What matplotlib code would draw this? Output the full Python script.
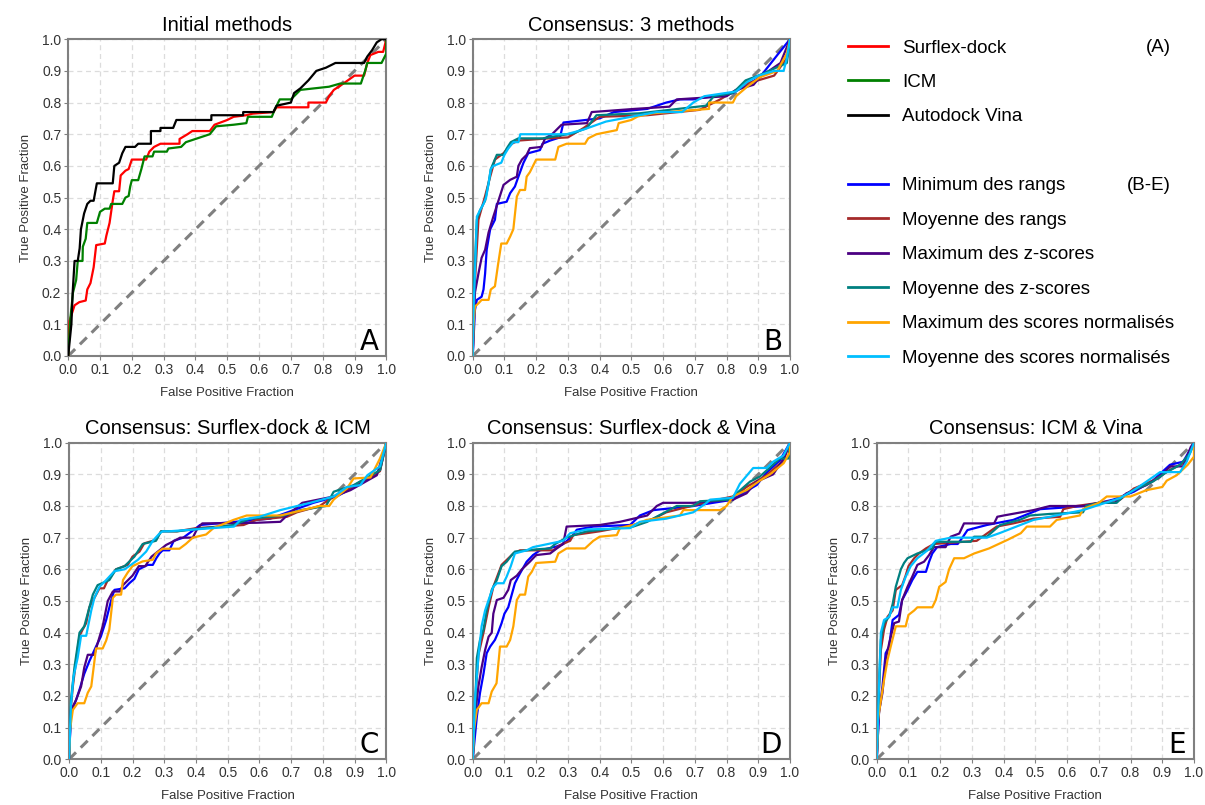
import numpy as np
import matplotlib
matplotlib.use("Agg")
import matplotlib.pyplot as plt
from matplotlib.lines import Line2D

plt.rcParams['font.family'] = ['Liberation Sans', 'DejaVu Sans']

# ---- data: (false positive fraction, true positive fraction) breakpoints ----
# panel A
a_surflex = [(0,0),(0.004,0.11),(0.02,0.16),(0.035,0.17),(0.055,0.175),(0.06,0.21),(0.07,0.23),(0.08,0.28),(0.088,0.35),(0.115,0.355),(0.12,0.38),(0.13,0.42),(0.14,0.49),(0.145,0.52),(0.16,0.52),(0.165,0.57),(0.18,0.585),(0.19,0.59),(0.20,0.62),(0.245,0.62),(0.255,0.645),(0.27,0.66),(0.29,0.67),(0.35,0.67),(0.35,0.685),(0.375,0.70),(0.39,0.71),(0.445,0.71),(0.46,0.73),(0.50,0.745),(0.52,0.755),(0.56,0.76),(0.58,0.765),(0.645,0.77),(0.655,0.785),(0.755,0.785),(0.755,0.80),(0.81,0.80),(0.82,0.82),(0.835,0.84),(0.865,0.86),(0.90,0.885),(0.93,0.885),(0.94,0.925),(0.95,0.95),(0.975,0.96),(0.99,0.96),(1,1)]
a_icm = [(0,0),(0.006,0.11),(0.015,0.2),(0.025,0.24),(0.03,0.30),(0.045,0.30),(0.046,0.345),(0.055,0.37),(0.06,0.42),(0.09,0.42),(0.10,0.455),(0.115,0.465),(0.13,0.465),(0.135,0.48),(0.17,0.48),(0.18,0.50),(0.19,0.505),(0.195,0.535),(0.20,0.555),(0.22,0.555),(0.23,0.59),(0.24,0.63),(0.265,0.63),(0.27,0.645),(0.31,0.645),(0.315,0.655),(0.355,0.66),(0.37,0.675),(0.415,0.69),(0.445,0.70),(0.465,0.725),(0.52,0.73),(0.56,0.735),(0.565,0.755),(0.64,0.755),(0.65,0.78),(0.665,0.81),(0.70,0.81),(0.71,0.82),(0.73,0.84),(0.82,0.85),(0.855,0.86),(0.92,0.86),(0.935,0.905),(0.94,0.925),(0.985,0.925),(1.0,0.955),(1,1)]
a_vina = [(0,0),(0.01,0.1),(0.014,0.2),(0.02,0.30),(0.03,0.30),(0.036,0.34),(0.04,0.40),(0.05,0.45),(0.06,0.48),(0.07,0.49),(0.08,0.49),(0.09,0.545),(0.14,0.545),(0.145,0.60),(0.16,0.61),(0.17,0.64),(0.18,0.66),(0.21,0.66),(0.22,0.67),(0.26,0.67),(0.26,0.71),(0.29,0.71),(0.29,0.72),(0.33,0.72),(0.34,0.745),(0.45,0.745),(0.45,0.76),(0.55,0.76),(0.55,0.77),(0.645,0.77),(0.655,0.79),(0.70,0.80),(0.71,0.83),(0.73,0.845),(0.755,0.87),(0.78,0.90),(0.81,0.91),(0.84,0.925),(0.93,0.925),(0.94,0.945),(0.955,0.965),(0.97,0.99),(0.985,1.0),(1,1)]

# panel B (3 methods)
b_min_rangs = [(0,0),(0.007,0.145),(0.013,0.177),(0.028,0.187),(0.034,0.21),(0.039,0.26),(0.044,0.335),(0.055,0.40),(0.07,0.43),(0.076,0.48),(0.107,0.487),(0.118,0.514),(0.133,0.535),(0.144,0.566),(0.16,0.61),(0.175,0.64),(0.212,0.65),(0.22,0.67),(0.244,0.68),(0.275,0.69),(0.286,0.737),(0.40,0.75),(0.445,0.77),(0.55,0.78),(0.61,0.80),(0.653,0.81),(0.695,0.81),(0.82,0.83),(0.905,0.88),(0.96,0.95),(1,1)]
b_moy_rangs = [(0,0),(0.004,0.18),(0.018,0.43),(0.039,0.505),(0.055,0.566),(0.07,0.62),(0.097,0.64),(0.123,0.67),(0.144,0.68),(0.24,0.687),(0.30,0.69),(0.35,0.72),(0.40,0.755),(0.55,0.76),(0.715,0.777),(0.78,0.81),(0.865,0.86),(0.95,0.885),(0.99,0.94),(1,1)]
b_max_z = [(0,0),(0.007,0.20),(0.018,0.26),(0.028,0.31),(0.039,0.335),(0.05,0.39),(0.065,0.44),(0.08,0.487),(0.097,0.54),(0.118,0.556),(0.139,0.566),(0.144,0.60),(0.155,0.62),(0.17,0.635),(0.18,0.656),(0.217,0.66),(0.228,0.687),(0.25,0.70),(0.28,0.73),(0.36,0.735),(0.375,0.77),(0.51,0.78),(0.62,0.787),(0.643,0.81),(0.80,0.82),(0.83,0.84),(0.885,0.856),(0.905,0.88),(0.97,0.925),(1,1)]
b_moy_z = [(0,0),(0.004,0.22),(0.013,0.43),(0.023,0.46),(0.039,0.49),(0.05,0.545),(0.057,0.59),(0.076,0.635),(0.097,0.635),(0.107,0.655),(0.12,0.675),(0.144,0.687),(0.22,0.687),(0.317,0.703),(0.36,0.72),(0.39,0.76),(0.525,0.766),(0.735,0.79),(0.76,0.82),(0.82,0.83),(0.86,0.87),(0.905,0.887),(0.99,0.925),(1,1)]
b_max_norm = [(0,0),(0.002,0.093),(0.007,0.156),(0.018,0.166),(0.028,0.177),(0.05,0.177),(0.057,0.21),(0.07,0.22),(0.08,0.29),(0.09,0.355),(0.107,0.355),(0.118,0.377),(0.128,0.40),(0.139,0.503),(0.149,0.524),(0.165,0.524),(0.17,0.566),(0.18,0.58),(0.19,0.60),(0.20,0.62),(0.26,0.62),(0.27,0.66),(0.296,0.67),(0.354,0.67),(0.364,0.687),(0.39,0.70),(0.454,0.713),(0.46,0.735),(0.50,0.745),(0.52,0.756),(0.565,0.766),(0.745,0.78),(0.745,0.80),(0.82,0.80),(0.83,0.82),(0.865,0.85),(0.905,0.88),(0.96,0.90),(0.99,0.955),(1,1)]
b_moy_norm = [(0,0),(0.002,0.13),(0.007,0.26),(0.013,0.44),(0.023,0.46),(0.034,0.48),(0.042,0.50),(0.05,0.545),(0.057,0.59),(0.065,0.60),(0.09,0.61),(0.10,0.635),(0.112,0.655),(0.128,0.675),(0.144,0.675),(0.15,0.70),(0.296,0.70),(0.35,0.715),(0.42,0.74),(0.525,0.76),(0.58,0.77),(0.66,0.77),(0.695,0.80),(0.73,0.82),(0.83,0.835),(0.865,0.865),(0.90,0.885),(0.95,0.90),(0.98,0.90),(0.99,0.94),(1,1)]

# panel C (Surflex-dock & ICM)
c_min_rangs = [(0,0),(0.006,0.145),(0.022,0.187),(0.033,0.22),(0.048,0.27),(0.064,0.31),(0.085,0.356),(0.10,0.387),(0.117,0.44),(0.133,0.503),(0.143,0.535),(0.175,0.54),(0.19,0.556),(0.206,0.57),(0.22,0.60),(0.248,0.614),(0.264,0.614),(0.275,0.635),(0.285,0.65),(0.295,0.66),(0.316,0.66),(0.33,0.69),(0.36,0.70),(0.387,0.72),(0.413,0.74),(0.634,0.76),(0.708,0.787),(0.77,0.81),(0.844,0.83),(0.897,0.86),(0.95,0.89),(0.98,0.913),(1,1)]
c_moy_rangs = [(0,0),(0.003,0.135),(0.012,0.23),(0.022,0.31),(0.033,0.39),(0.043,0.41),(0.054,0.43),(0.064,0.48),(0.08,0.51),(0.096,0.54),(0.11,0.54),(0.122,0.566),(0.148,0.60),(0.185,0.614),(0.20,0.64),(0.222,0.656),(0.237,0.682),(0.274,0.693),(0.29,0.72),(0.34,0.72),(0.40,0.73),(0.55,0.74),(0.59,0.756),(0.687,0.766),(0.718,0.78),(0.79,0.80),(0.834,0.83),(0.876,0.85),(0.918,0.877),(0.95,0.89),(0.98,0.91),(1,1)]
c_max_z = [(0,0),(0.006,0.155),(0.022,0.187),(0.038,0.23),(0.048,0.29),(0.059,0.33),(0.08,0.33),(0.09,0.366),(0.106,0.42),(0.122,0.50),(0.138,0.53),(0.16,0.53),(0.17,0.55),(0.20,0.58),(0.22,0.61),(0.24,0.61),(0.26,0.64),(0.306,0.677),(0.338,0.693),(0.35,0.70),(0.39,0.70),(0.405,0.73),(0.42,0.745),(0.59,0.747),(0.666,0.75),(0.687,0.77),(0.735,0.81),(0.834,0.83),(0.887,0.85),(0.97,0.897),(1,1)]
c_moy_z = [(0,0),(0.006,0.187),(0.017,0.29),(0.033,0.40),(0.048,0.42),(0.075,0.52),(0.09,0.55),(0.127,0.566),(0.148,0.60),(0.175,0.61),(0.206,0.64),(0.232,0.68),(0.274,0.69),(0.29,0.72),(0.34,0.72),(0.518,0.74),(0.57,0.76),(0.676,0.77),(0.73,0.787),(0.81,0.80),(0.834,0.845),(0.897,0.866),(0.94,0.89),(0.98,0.913),(1,1)]
c_max_norm = [(0,0),(0.003,0.093),(0.012,0.156),(0.027,0.177),(0.048,0.177),(0.059,0.21),(0.07,0.23),(0.085,0.35),(0.106,0.35),(0.117,0.375),(0.127,0.41),(0.138,0.51),(0.148,0.52),(0.164,0.52),(0.17,0.566),(0.185,0.59),(0.20,0.61),(0.232,0.625),(0.264,0.63),(0.274,0.65),(0.295,0.665),(0.348,0.665),(0.368,0.68),(0.39,0.70),(0.432,0.71),(0.455,0.73),(0.518,0.756),(0.56,0.77),(0.666,0.77),(0.79,0.80),(0.82,0.80),(0.834,0.82),(0.876,0.856),(0.897,0.887),(0.95,0.89),(0.98,0.95),(1,1)]
c_moy_norm = [(0,0),(0.006,0.17),(0.014,0.26),(0.027,0.32),(0.038,0.39),(0.054,0.39),(0.07,0.47),(0.08,0.51),(0.096,0.545),(0.117,0.566),(0.143,0.594),(0.175,0.60),(0.195,0.614),(0.217,0.63),(0.243,0.656),(0.264,0.69),(0.285,0.713),(0.295,0.72),(0.314,0.72),(0.52,0.735),(0.54,0.756),(0.60,0.766),(0.666,0.787),(0.76,0.81),(0.834,0.83),(0.876,0.86),(0.918,0.866),(0.94,0.897),(0.98,0.925),(1,1)]

# panel D (Surflex-dock & Vina)
d_min_rangs = [(0,0),(0.013,0.135),(0.023,0.21),(0.034,0.27),(0.044,0.335),(0.055,0.356),(0.07,0.377),(0.08,0.40),(0.091,0.43),(0.10,0.46),(0.112,0.48),(0.123,0.52),(0.133,0.556),(0.149,0.587),(0.17,0.624),(0.19,0.645),(0.212,0.66),(0.264,0.672),(0.285,0.68),(0.312,0.703),(0.328,0.725),(0.38,0.735),(0.496,0.74),(0.527,0.77),(0.57,0.787),(0.695,0.80),(0.82,0.82),(0.842,0.835),(0.895,0.866),(0.926,0.905),(0.968,0.944),(1,1)]
d_moy_rangs = [(0,0),(0.007,0.165),(0.018,0.33),(0.034,0.40),(0.05,0.48),(0.065,0.545),(0.091,0.614),(0.128,0.65),(0.149,0.66),(0.254,0.66),(0.275,0.676),(0.307,0.69),(0.317,0.708),(0.40,0.72),(0.506,0.74),(0.57,0.76),(0.61,0.78),(0.748,0.815),(0.82,0.83),(0.863,0.86),(0.926,0.897),(0.98,0.944),(1,1)]
d_max_z = [(0,0),(0.007,0.135),(0.018,0.23),(0.028,0.29),(0.039,0.345),(0.05,0.387),(0.06,0.40),(0.065,0.46),(0.076,0.503),(0.097,0.51),(0.112,0.535),(0.12,0.566),(0.139,0.58),(0.155,0.60),(0.18,0.624),(0.20,0.645),(0.244,0.65),(0.265,0.666),(0.285,0.68),(0.296,0.735),(0.40,0.74),(0.464,0.75),(0.55,0.77),(0.58,0.80),(0.60,0.81),(0.695,0.81),(0.82,0.82),(0.863,0.84),(0.895,0.877),(0.947,0.90),(0.98,0.95),(1,1)]
d_moy_z = [(0,0),(0.007,0.145),(0.013,0.32),(0.023,0.377),(0.034,0.41),(0.044,0.47),(0.06,0.535),(0.076,0.566),(0.091,0.61),(0.107,0.624),(0.123,0.645),(0.133,0.656),(0.20,0.663),(0.244,0.666),(0.26,0.68),(0.296,0.70),(0.338,0.714),(0.36,0.72),(0.506,0.735),(0.55,0.75),(0.60,0.777),(0.643,0.80),(0.695,0.80),(0.716,0.815),(0.81,0.82),(0.832,0.84),(0.874,0.877),(0.905,0.893),(0.968,0.95),(0.995,0.95),(1,1)]
d_max_norm = [(0,0),(0.004,0.093),(0.013,0.156),(0.028,0.177),(0.05,0.177),(0.06,0.214),(0.075,0.24),(0.086,0.356),(0.107,0.356),(0.118,0.377),(0.128,0.42),(0.139,0.503),(0.149,0.52),(0.165,0.52),(0.175,0.577),(0.186,0.592),(0.20,0.62),(0.26,0.624),(0.27,0.65),(0.296,0.666),(0.354,0.666),(0.38,0.69),(0.40,0.703),(0.454,0.708),(0.464,0.73),(0.506,0.74),(0.548,0.756),(0.653,0.77),(0.664,0.787),(0.78,0.787),(0.80,0.80),(0.82,0.83),(0.863,0.85),(0.905,0.88),(0.937,0.90),(0.98,0.935),(1,0.97),(1,1)]
d_moy_norm = [(0,0),(0.007,0.187),(0.018,0.324),(0.028,0.42),(0.039,0.47),(0.05,0.503),(0.065,0.545),(0.076,0.556),(0.097,0.556),(0.107,0.577),(0.12,0.61),(0.133,0.65),(0.17,0.66),(0.19,0.67),(0.285,0.69),(0.307,0.714),(0.36,0.726),(0.496,0.73),(0.527,0.75),(0.61,0.76),(0.695,0.78),(0.737,0.81),(0.748,0.82),(0.82,0.826),(0.842,0.87),(0.884,0.92),(0.926,0.92),(0.947,0.94),(0.98,0.96),(1,1)]

# panel E (ICM & Vina)
e_min_rangs = [(0,0),(0.007,0.145),(0.018,0.23),(0.028,0.335),(0.039,0.356),(0.05,0.44),(0.07,0.456),(0.08,0.503),(0.097,0.535),(0.112,0.566),(0.128,0.592),(0.155,0.592),(0.165,0.624),(0.175,0.65),(0.19,0.67),(0.233,0.68),(0.255,0.68),(0.27,0.70),(0.286,0.724),(0.347,0.74),(0.43,0.756),(0.515,0.79),(0.588,0.795),(0.66,0.80),(0.745,0.82),(0.81,0.845),(0.87,0.88),(0.924,0.93),(0.966,0.94),(1,1)]
e_moy_rangs = [(0,0),(0.004,0.15),(0.013,0.345),(0.023,0.41),(0.034,0.45),(0.05,0.47),(0.06,0.535),(0.08,0.55),(0.091,0.58),(0.10,0.61),(0.118,0.635),(0.133,0.65),(0.155,0.666),(0.18,0.68),(0.315,0.69),(0.378,0.735),(0.43,0.745),(0.494,0.76),(0.578,0.766),(0.588,0.79),(0.63,0.80),(0.70,0.81),(0.767,0.82),(0.81,0.855),(0.87,0.88),(0.924,0.914),(0.966,0.935),(0.99,0.977),(1,1)]
e_max_z = [(0,0),(0.007,0.15),(0.018,0.21),(0.028,0.314),(0.039,0.366),(0.055,0.43),(0.07,0.435),(0.08,0.503),(0.097,0.545),(0.112,0.577),(0.128,0.614),(0.149,0.624),(0.165,0.645),(0.18,0.67),(0.217,0.67),(0.233,0.703),(0.26,0.713),(0.275,0.745),(0.37,0.745),(0.38,0.766),(0.40,0.77),(0.494,0.787),(0.546,0.80),(0.65,0.80),(0.70,0.81),(0.75,0.81),(0.787,0.84),(0.85,0.866),(0.893,0.893),(0.924,0.925),(0.966,0.925),(0.99,0.987),(1,1)]
e_moy_z = [(0,0),(0.007,0.23),(0.013,0.377),(0.023,0.43),(0.039,0.45),(0.05,0.49),(0.06,0.545),(0.076,0.60),(0.086,0.62),(0.097,0.635),(0.128,0.65),(0.175,0.666),(0.186,0.687),(0.296,0.687),(0.307,0.703),(0.347,0.703),(0.389,0.74),(0.45,0.756),(0.483,0.77),(0.546,0.775),(0.65,0.78),(0.66,0.80),(0.70,0.81),(0.756,0.81),(0.777,0.83),(0.81,0.85),(0.87,0.877),(0.914,0.907),(0.956,0.93),(0.987,0.966),(1,1)]
e_max_norm = [(0,0),(0.004,0.124),(0.013,0.187),(0.023,0.25),(0.034,0.314),(0.044,0.356),(0.055,0.40),(0.06,0.42),(0.091,0.42),(0.10,0.456),(0.118,0.47),(0.128,0.48),(0.175,0.48),(0.186,0.503),(0.197,0.545),(0.217,0.56),(0.228,0.60),(0.244,0.635),(0.275,0.635),(0.307,0.65),(0.354,0.666),(0.412,0.693),(0.454,0.714),(0.473,0.735),(0.546,0.735),(0.567,0.756),(0.64,0.77),(0.65,0.79),(0.70,0.81),(0.725,0.83),(0.80,0.83),(0.85,0.85),(0.90,0.86),(0.914,0.88),(0.945,0.897),(0.98,0.93),(1.0,0.956),(1,1)]
e_moy_norm = [(0,0),(0.007,0.23),(0.013,0.40),(0.023,0.44),(0.039,0.45),(0.05,0.48),(0.065,0.48),(0.076,0.535),(0.091,0.576),(0.107,0.61),(0.128,0.635),(0.16,0.66),(0.186,0.69),(0.233,0.70),(0.347,0.70),(0.389,0.715),(0.44,0.735),(0.494,0.756),(0.546,0.766),(0.65,0.787),(0.767,0.825),(0.81,0.85),(0.85,0.877),(0.893,0.907),(0.956,0.907),(0.977,0.94),(1,1)]

initial_labels = ["Surflex-dock", "ICM", "Autodock Vina"]
initial_colors = ["#ff0000", "#008000", "#000000"]
consensus_labels = ["Minimum des rangs", "Moyenne des rangs", "Maximum des z-scores",
                    "Moyenne des z-scores", "Maximum des scores normalisés",
                    "Moyenne des scores normalisés"]
consensus_colors = ["#0000ff", "#a52a2a", "#4b0082", "#008080", "#ffa500", "#00bfff"]

panels = [
    ("Initial methods", "A", [a_surflex, a_icm, a_vina], initial_colors),
    ("Consensus: 3 methods", "B", [b_min_rangs, b_moy_rangs, b_max_z, b_moy_z, b_max_norm, b_moy_norm], consensus_colors),
    ("Consensus: Surflex-dock & ICM", "C", [c_min_rangs, c_moy_rangs, c_max_z, c_moy_z, c_max_norm, c_moy_norm], consensus_colors),
    ("Consensus: Surflex-dock & Vina", "D", [d_min_rangs, d_moy_rangs, d_max_z, d_moy_z, d_max_norm, d_moy_norm], consensus_colors),
    ("Consensus: ICM & Vina", "E", [e_min_rangs, e_moy_rangs, e_max_z, e_moy_z, e_max_norm, e_moy_norm], consensus_colors),
]

# axes rectangles in figure fraction (left, bottom, width, height)
rects = [
    (0.0566, 0.5578, 0.2640, 0.3935),
    (0.3923, 0.5578, 0.2633, 0.3935),
    (0.0573, 0.0568, 0.2633, 0.3933),
    (0.3923, 0.0568, 0.2633, 0.3933),
    (0.7276, 0.0568, 0.2633, 0.3933),
]

fig = plt.figure(figsize=(12.05, 8.05), dpi=100)
ticks = np.round(np.arange(0, 1.01, 0.1), 1)

for (title, letter, curves, colors), rect in zip(panels, rects):
    ax = fig.add_axes(rect)
    ax.plot([0, 1], [0, 1], color="#808080", lw=2.2, ls=(0, (3.2, 2.2)), zorder=2)
    for pts, col in zip(curves, colors):
        xy = np.array(pts)
        ax.plot(xy[:, 0], xy[:, 1], color=col, lw=1.6, zorder=3)
    ax.set_xlim(0, 1)
    ax.set_ylim(0, 1)
    ax.set_xticks(ticks)
    ax.set_yticks(ticks)
    ax.set_xticklabels([f"{t:.1f}" for t in ticks])
    ax.set_yticklabels([f"{t:.1f}" for t in ticks])
    ax.grid(True, color="#dcdcdc", ls=(0, (4, 3)), lw=0.9, zorder=0)
    ax.tick_params(length=3, color="#808080", labelsize=10, labelcolor="#333333", pad=2)
    for s in ax.spines.values():
        s.set_color("#808080")
        s.set_linewidth(1.5)
    ax.set_xlabel("False Positive Fraction", fontsize=9.5, color="#333333", labelpad=7)
    ax.set_ylabel("True Positive Fraction", fontsize=9.5, color="#333333", labelpad=7)
    ax.set_title(title, fontsize=14.5, pad=6)
    ax.text(0.975, 0.0, letter, transform=ax.transAxes, ha="right", va="bottom",
            fontsize=20, family="DejaVu Sans")

# legend
handles = [Line2D([], [], color=c, lw=2) for c in initial_colors]
handles.append(Line2D([], [], color="none"))
handles += [Line2D([], [], color=c, lw=2) for c in consensus_colors]
labels = initial_labels + [""] + consensus_labels
fig.legend(handles, labels, loc="upper left", bbox_to_anchor=(0.690, 0.972),
           frameon=False, fontsize=13.5, handlelength=2.1, handletextpad=0.75,
           labelspacing=0.925)
fig.text(1171 / 1205, 1 - 46 / 805, "(A)", fontsize=13.5, ha="right", va="center_baseline")
fig.text(1171 / 1205, 1 - 184 / 805, "(B-E)", fontsize=13.5, ha="right", va="center_baseline")

fig.savefig("out.png", dpi=100)
